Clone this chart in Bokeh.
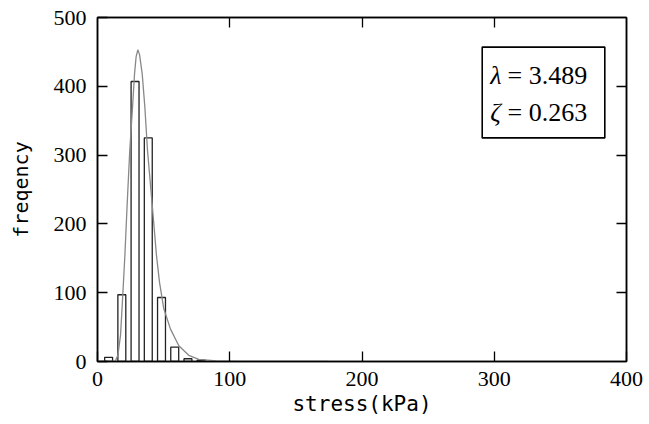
from bokeh.plotting import figure
from bokeh.models import Range1d, LinearAxis, BoxAnnotation, Label, FixedTicker
from bokeh.embed import file_html
from bokeh.resources import INLINE

# histogram of stress (bins ~10 kPa wide)
bin_centers = [8.4, 18.4, 28.4, 38.4, 48.4, 58.4, 68.4, 78.4]
counts = [6, 97, 407, 325, 93, 21, 4, 2]

# fitted lognormal curve
curve_x = [3, 12, 13.6, 15.4, 17.4, 19.1, 20.7, 22.4, 24.4, 26.5, 28, 29.2, 30.5,
           31.8, 33.8, 35.8, 37.8, 41.4, 44.6, 46.9, 50.1, 55.2, 61.5, 69, 76.6,
           90, 110, 174]
curve_y = [0, 0, 1, 9, 38, 96, 154, 227, 307, 370, 418, 443, 453,
           446, 418, 370, 307, 227, 154, 115, 77, 47, 23, 9, 3,
           1, 0, 0]

lam_text = "= 3.489"
zeta_text = "= 0.263"

x_ticks = [0, 100, 200, 300, 400]
y_ticks = [0, 100, 200, 300, 400, 500]

p = figure(width=649, height=424, output_backend="svg", toolbar_location=None,
           x_range=Range1d(0, 400), y_range=Range1d(0, 500),
           min_border_left=97, min_border_right=23, min_border_top=17,
           min_border_bottom=63)
p.grid.visible = False
p.outline_line_color = "black"
p.outline_line_width = 1.5
p.background_fill_color = "white"
p.border_fill_color = "white"

serif = "Liberation Serif"
mono = "DejaVu Sans Mono"

for ax in (p.xaxis[0], p.yaxis[0]):
    ax.major_tick_in = 10
    ax.major_tick_out = 0
    ax.minor_tick_in = 0
    ax.minor_tick_out = 0
    ax.axis_line_width = 1.5
    ax.major_tick_line_width = 1.3
    ax.major_label_text_font = serif
    ax.major_label_text_font_size = "22px"
    ax.major_label_text_color = "black"
    ax.axis_label_text_font = mono
    ax.axis_label_text_font_style = "normal"
    ax.axis_label_text_color = "black"

p.xaxis[0].axis_label_text_font_size = "21px"
p.yaxis[0].axis_label_text_font_size = "20px"
p.xaxis[0].ticker = FixedTicker(ticks=x_ticks)
p.yaxis[0].ticker = FixedTicker(ticks=y_ticks)
p.xaxis[0].axis_label = "stress(kPa)"
p.yaxis[0].axis_label = "freqency"
p.xaxis[0].major_label_standoff = 10
p.xaxis[0].axis_label_standoff = 3
p.yaxis[0].major_label_standoff = 11
p.yaxis[0].axis_label_standoff = 18

top_ax = LinearAxis(ticker=FixedTicker(ticks=x_ticks[1:-1]))
right_ax = LinearAxis(ticker=FixedTicker(ticks=y_ticks[1:-1]))
top_ax.major_label_overrides = {t: "" for t in x_ticks[1:-1]}
right_ax.major_label_overrides = {t: "" for t in y_ticks[1:-1]}
for ax in (top_ax, right_ax):
    ax.major_tick_in = 10
    ax.major_tick_out = 0
    ax.minor_tick_in = 0
    ax.minor_tick_out = 0
    ax.axis_line_width = 1.5
    ax.major_tick_line_width = 1.3
    ax.major_label_standoff = 0
p.add_layout(top_ax, "above")
p.add_layout(right_ax, "right")

p.vbar(x=bin_centers, width=6, top=counts, bottom=0,
       fill_color="white", fill_alpha=0, line_color="#222222", line_width=1.3)
p.line(curve_x, curve_y, line_color="#888888", line_width=1.3)

box = BoxAnnotation(left=290.9, right=383.6, bottom=325, top=457,
                    fill_color="white", fill_alpha=1.0,
                    line_color="black", line_width=1.6, line_alpha=1.0)
p.add_layout(box)

for sym, txt, yv in (("λ", lam_text, 415.7), ("ζ", zeta_text, 362.0)):
    p.add_layout(Label(x=297.0, y=yv, text=sym, text_font=serif,
                       text_font_size="26px", text_font_style="italic",
                       text_baseline="middle", text_align="left",
                       text_color="black"))
    p.add_layout(Label(x=310.0, y=yv, text=txt, text_font=serif,
                       text_font_size="26px", text_baseline="middle",
                       text_align="left", text_color="black"))

open("out.html", "w").write(file_html(p, INLINE))
